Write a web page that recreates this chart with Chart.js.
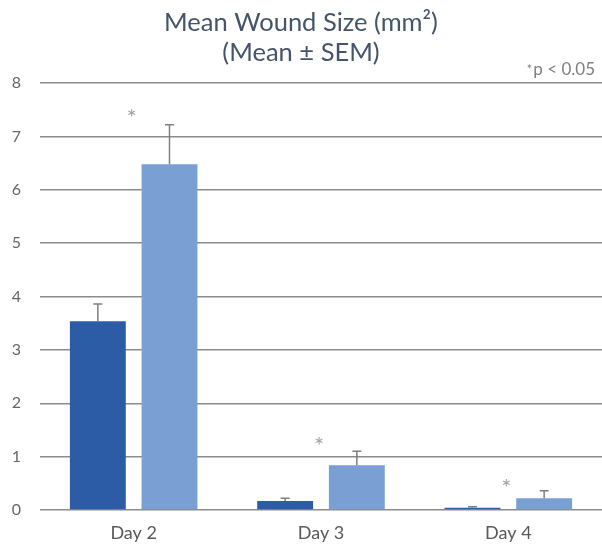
<!DOCTYPE html>
<html><head><meta charset="utf-8">
<script src="https://cdn.jsdelivr.net/npm/chart.js@4"></script>
<style>html,body{margin:0;padding:0;background:#fff}#wrap{width:602px;height:544px}</style>
</head><body><div id="wrap"><canvas id="c"></canvas></div>
<script>
const categories = ["Day 2", "Day 3", "Day 4"];
const controlMeans = [3.54, 0.17, 0.04];
const controlSEM = [0.32, 0.05, 0.02];
const treatedMeans = [6.48, 0.84, 0.22];
const treatedSEM = [0.74, 0.26, 0.14];
const significant = [true, true, true];
const asteriskLevels = [7.45, 1.3, 0.52];
const yTicks = [0, 1, 2, 3, 4, 5, 6, 7, 8];
const noteText = 'p < 0.05';

const errorBars = {
  id: 'errorBars',
  afterDatasetsDraw(chart) {
    const ctx = chart.ctx, y = chart.scales.y, x = chart.scales.x;
    const sems = [controlSEM, treatedSEM];
    ctx.save();
    ctx.strokeStyle = '#7f7f7f';
    ctx.lineWidth = 1.5;
    chart.data.datasets.forEach((ds, di) => {
      chart.getDatasetMeta(di).data.forEach((bar, i) => {
        const top = y.getPixelForValue(ds.data[i] + sems[di][i]);
        const base = y.getPixelForValue(ds.data[i]);
        ctx.beginPath();
        ctx.moveTo(bar.x, base); ctx.lineTo(bar.x, top);
        ctx.moveTo(bar.x - 4.5, top); ctx.lineTo(bar.x + 4.5, top);
        ctx.stroke();
      });
    });
    ctx.fillStyle = '#a3a3a3';
    ctx.font = '24px Lato';
    ctx.textAlign = 'center';
    ctx.textBaseline = 'middle';
    significant.forEach((s, i) => {
      if (!s) return;
      ctx.fillText('*', x.getPixelForValue(i) - 2, y.getPixelForValue(asteriskLevels[i]) + 6);
    });
    // note
    ctx.fillStyle = '#7f7f7f';
    ctx.textAlign = 'right';
    ctx.textBaseline = 'alphabetic';
    ctx.font = '17px Lato';
    const right = 595;
    ctx.fillText(noteText, right, 75);
    const w = ctx.measureText(noteText).width;
    ctx.font = '13px Lato';
    ctx.fillText('*', right - w - 1, 74);
    ctx.restore();
  }
};

new Chart(document.getElementById('c'), {
  type: 'bar',
  data: {
    labels: categories,
    datasets: [
      { label: 'Control', data: controlMeans, backgroundColor: '#2d5ca6', categoryPercentage: 0.765, barPercentage: 0.78 },
      { label: 'Treated', data: treatedMeans, backgroundColor: '#7a9fd3', categoryPercentage: 0.765, barPercentage: 0.78 }
    ]
  },
  options: {
    responsive: true, maintainAspectRatio: false, animation: false,
    layout: { padding: { left: 0, right: 0, top: 8, bottom: 0 } },
    plugins: {
      legend: { display: false },
      tooltip: { enabled: false },
      title: {
        display: true,
        text: ['Mean Wound Size (mm²)', '(Mean ± SEM)'],
        color: '#44546a',
        font: { family: 'Lato', size: 25.5, weight: 'normal', lineHeight: 1.18 },
        padding: { top: 0, bottom: 15 }
      }
    },
    scales: {
      x: {
        grid: { display: false, drawTicks: false },
        border: { display: false },
        ticks: { color: '#595959', font: { family: 'Lato', size: 18 }, padding: 12 },
        afterFit: (s) => { s.height = 34; }
      },
      y: {
        min: 0, max: 8,
        afterBuildTicks: (s) => { s.ticks = yTicks.map(v => ({ value: v })); },
        grid: { color: '#8c8c8c', lineWidth: 1.5, drawTicks: false },
        border: { display: false },
        ticks: { color: '#666666', font: { family: 'Lato', size: 16 }, padding: 19 },
        afterFit: (s) => { s.width = 40; }
      }
    }
  },
  plugins: [errorBars]
});
</script>
</body></html>
